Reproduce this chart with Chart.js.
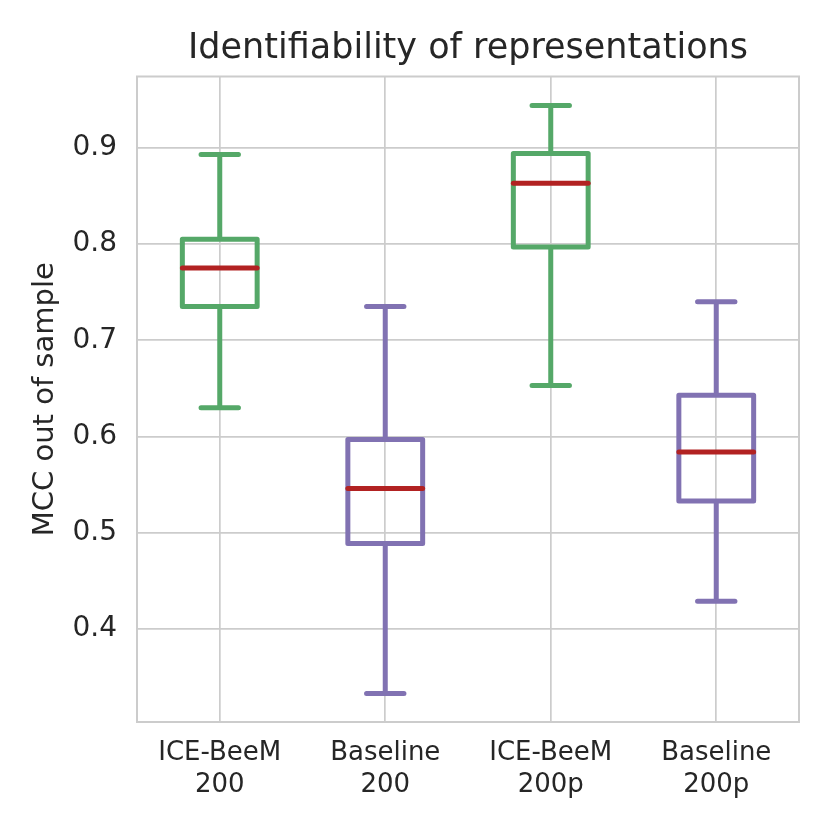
<!DOCTYPE html>
<html>
<head>
<meta charset="utf-8">
<script src="https://cdn.jsdelivr.net/npm/chart.js@4.4.1/dist/chart.umd.min.js"></script>
<style>
  html, body { margin: 0; padding: 0; background: #ffffff; }
  #chart { display: block; }
</style>
</head>
<body>
<canvas id="chart" width="830" height="830"></canvas>
<script>
// box plot summary values
const categories = [['ICE-BeeM', '200'], ['Baseline', '200'], ['ICE-BeeM', '200p'], ['Baseline', '200p']];
const whiskerLow = [0.630, 0.333, 0.653, 0.429];
const quartile1 = [0.735, 0.489, 0.797, 0.533];
const medians = [0.775, 0.546, 0.863, 0.584];
const quartile3 = [0.805, 0.597, 0.894, 0.643];
const whiskerHigh = [0.893, 0.735, 0.944, 0.740];
const yTicks = [0.4, 0.5, 0.6, 0.7, 0.8, 0.9];

const boxColors = ['#55a868', '#8172b2', '#55a868', '#8172b2'];
const medianColor = '#b22222';
const gridColor = '#cccccc';
const textColor = '#262626';
const lineW = 5;

// box outline, whiskers, caps and medians, placed with the chart's own scales
const boxExtras = {
  id: 'boxExtras',
  afterDatasetsDraw(chart) {
    const ctx = chart.ctx;
    const ys = chart.scales.y;
    const bars = chart.getDatasetMeta(0).data;
    ctx.save();
    ctx.lineWidth = lineW;
    categories.forEach((c, i) => {
      const x = bars[i].x;
      const half = bars[i].width / 2;
      const cap = half / 2;
      const yq1 = ys.getPixelForValue(quartile1[i]);
      const yq3 = ys.getPixelForValue(quartile3[i]);
      const yHi = ys.getPixelForValue(whiskerHigh[i]);
      const yLo = ys.getPixelForValue(whiskerLow[i]);
      const yMed = ys.getPixelForValue(medians[i]);
      ctx.strokeStyle = boxColors[i];
      ctx.lineJoin = 'round';
      ctx.lineCap = 'butt';
      ctx.strokeRect(x - half, yq3, half * 2, yq1 - yq3);
      ctx.beginPath();
      ctx.moveTo(x, yq3);
      ctx.lineTo(x, yHi);
      ctx.moveTo(x, yq1);
      ctx.lineTo(x, yLo);
      ctx.stroke();
      ctx.lineCap = 'round';
      ctx.beginPath();
      ctx.moveTo(x - cap, yHi);
      ctx.lineTo(x + cap, yHi);
      ctx.moveTo(x - cap, yLo);
      ctx.lineTo(x + cap, yLo);
      ctx.stroke();
      ctx.strokeStyle = medianColor;
      ctx.beginPath();
      ctx.moveTo(x - half, yMed);
      ctx.lineTo(x + half, yMed);
      ctx.stroke();
    });
    ctx.restore();
  }
};

// light grey frame round the plot area
const frame = {
  id: 'frame',
  beforeDatasetsDraw(chart) {
    const a = chart.chartArea, ctx = chart.ctx;
    ctx.save();
    ctx.strokeStyle = gridColor;
    ctx.lineWidth = 2;
    ctx.strokeRect(a.left, a.top, a.right - a.left, a.bottom - a.top);
    ctx.restore();
  }
};

Chart.defaults.font.family = 'DejaVu Sans';
Chart.defaults.color = textColor;

new Chart(document.getElementById('chart'), {
  type: 'bar',
  data: {
    labels: categories,
    datasets: [{
      // q1..q3 floating bars give the box extent; outline is stroked by the plugin
      data: quartile1.map((q, i) => [q, quartile3[i]]),
      backgroundColor: 'rgba(0,0,0,0)',
      borderColor: boxColors,
      borderWidth: 0,
      barPercentage: 0.452,
      categoryPercentage: 1.0
    }]
  },
  options: {
    responsive: false,
    devicePixelRatio: 1,
    animation: false,
    layout: { padding: { left: 0, right: 31, top: 0, bottom: 0 } },
    plugins: {
      legend: { display: false },
      tooltip: { enabled: false },
      title: {
        display: true,
        fullSize: false,
        text: 'Identifiability of representations',
        color: textColor,
        font: { size: 35, weight: 'normal' },
        padding: { top: 28, bottom: 6.5 }
      }
    },
    scales: {
      x: {
        grid: { color: gridColor, lineWidth: 1.7, offset: false, drawTicks: false },
        border: { display: false },
        ticks: { font: { size: 26, lineHeight: 1.2 }, padding: 16, maxRotation: 0, color: textColor },
        afterFit(s) { s.height = 108; }
      },
      y: {
        min: 0.3035,
        max: 0.974,
        afterBuildTicks(s) { s.ticks = yTicks.map(v => ({ value: v })); },
        grid: { color: gridColor, lineWidth: 1.7, drawTicks: false },
        border: { display: false },
        ticks: { font: { size: 28 }, padding: 20, color: textColor, callback: v => v.toFixed(1) },
        title: {
          display: true,
          text: 'MCC out of sample',
          color: textColor,
          font: { size: 29 },
          padding: { top: 28, bottom: 0 }
        },
        afterFit(s) { s.width = 137; }
      }
    }
  },
  plugins: [frame, boxExtras]
});
</script>
</body>
</html>
